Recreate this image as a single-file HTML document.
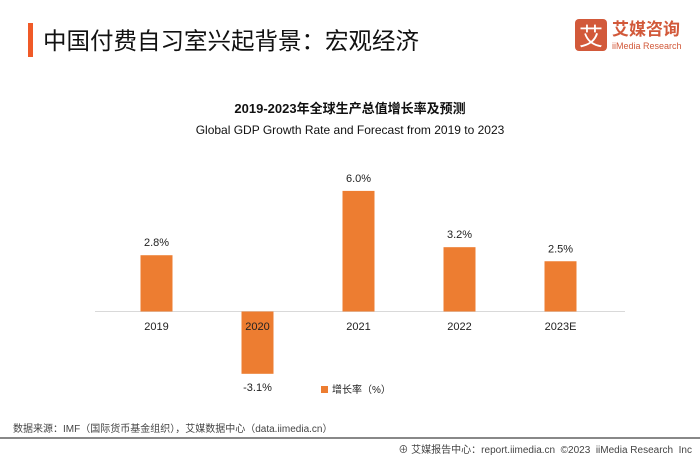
<!DOCTYPE html>
<html><head><meta charset="utf-8">
<style>
body{margin:0;width:700px;height:455px;background:#fff;position:relative;overflow:hidden;font-family:"Liberation Sans","Noto Sans CJK SC",sans-serif;}
.abs{position:absolute;}
</style></head><body>
<div class="abs" style="left:28px;top:23px;width:5px;height:34px;background:#f05a28"></div>
<div class="abs" style="left:43px;top:22px;font-size:23.5px;color:#111;font-family:'Noto Sans CJK SC',sans-serif;line-height:34px">中国付费自习室兴起背景：宏观经济</div>
<div class="abs" style="left:575px;top:19px;width:32px;height:32px;background:#d2593a;border-radius:4px;color:#fff;font-size:24px;line-height:32px;text-align:center;font-family:'Noto Sans CJK SC',sans-serif">艾</div>
<div class="abs" style="left:612px;top:17px;font-size:17px;color:#d2593a;font-family:'Noto Sans CJK SC',sans-serif;line-height:22px;font-weight:bold">艾媒咨询</div>
<div class="abs" style="left:612px;top:40px;font-size:9px;color:#d2593a;line-height:12px">iiMedia Research</div>

<svg class="abs" style="left:0;top:0" width="700" height="455" id="chart">
<text x="350" y="113" text-anchor="middle" font-size="13" font-weight="bold" fill="#111" font-family="Liberation Sans,Noto Sans CJK SC,sans-serif">2019-2023年全球生产总值增长率及预测</text>
<text x="350" y="134" text-anchor="middle" font-size="12" fill="#111" font-family="Liberation Sans,sans-serif">Global GDP Growth Rate and Forecast from 2019 to 2023</text>
<line x1="95" y1="311.5" x2="625" y2="311.5" stroke="#d9d9d9" stroke-width="1"/>
<g id="bars"></g>
<rect x="321" y="386" width="7" height="7" fill="#ed7d31"/>
<text x="332" y="393" font-size="10" fill="#222" font-family="Liberation Sans,Noto Sans CJK SC,sans-serif">增长率（%）</text>
</svg>
<div class="abs" style="left:13px;top:420px;font-size:10px;color:#444;font-family:'Liberation Sans','Noto Sans CJK SC',sans-serif">数据来源：IMF（国际货币基金组织），艾媒数据中心（data.iimedia.cn）</div>
<div class="abs" style="left:0;top:437px;width:700px;height:2px;background:#888"></div>
<div class="abs" style="right:8px;top:441px;font-size:10px;color:#444;font-family:'Liberation Sans','Noto Sans CJK SC',sans-serif">⊕ 艾媒报告中心：report.iimedia.cn&nbsp;&nbsp;©2023&nbsp; iiMedia Research&nbsp; Inc</div>
<script>
const categories=["2019","2020","2021","2022","2023E"];
const values=[2.8,-3.1,6.0,3.2,2.5];
const valueLabels=["2.8%","-3.1%","6.0%","3.2%","2.5%"];
const NS="http://www.w3.org/2000/svg";
const g=document.getElementById('bars');
const y0=311.5, pxPer=20.1;
function yScale(v){return y0-v*pxPer;}
function xCenter(i){return 156.5+i*101;}
categories.forEach((c,i)=>{
  const v=values[i];
  const r=document.createElementNS(NS,'rect');
  const top=Math.min(yScale(v),y0), h=Math.abs(yScale(v)-y0);
  r.setAttribute('x',xCenter(i)-16);r.setAttribute('y',top);
  r.setAttribute('width',32);r.setAttribute('height',h);r.setAttribute('fill','#ed7d31');
  
  
  g.appendChild(r);
  const t=document.createElementNS(NS,'text');
  t.setAttribute('x',xCenter(i));
  t.setAttribute('y', v>=0 ? yScale(v)-9 : yScale(v)+17);
  t.setAttribute('text-anchor','middle');t.setAttribute('font-size','11');t.setAttribute('fill','#222');
  t.textContent=valueLabels[i];
  
  
  g.appendChild(t);
  const l=document.createElementNS(NS,'text');
  l.setAttribute('x',xCenter(i));l.setAttribute('y',330);
  l.setAttribute('text-anchor','middle');l.setAttribute('font-size','11');l.setAttribute('fill','#222');
  l.textContent=c;
  
  
  g.appendChild(l);
});
</script>
</body></html>
